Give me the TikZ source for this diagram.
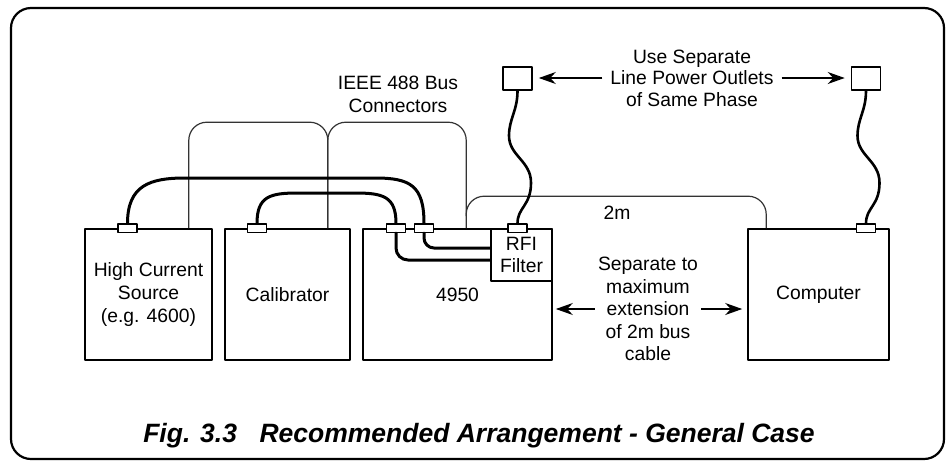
\documentclass[tikz,border=0pt]{standalone}
\usepackage{fontspec}
\setmainfont{Liberation Sans}
\usetikzlibrary{arrows.meta}
\newcommand{\lbfont}{\fontsize{19.3}{22.6}\selectfont}
\tikzset{
  unit/.style={draw,line width=1.6pt,inner sep=0pt,align=center,font=\lbfont,minimum height=131pt},
  plug/.style={draw,fill=white,line width=1.2pt,minimum width=19pt,minimum height=8.5pt,inner sep=0pt},
  outlet/.style={draw,line width=1.6pt,minimum width=29pt,minimum height=23pt,inner sep=0pt},
  cab/.style={line width=3pt,line cap=round},
  bus/.style={draw=black!80,line width=1.2pt,rounded corners=18pt},
  lbl/.style={align=center,font=\lbfont},
}

\begin{document}
\begin{tikzpicture}[x=1pt,y=-1pt,>={Stealth[length=17pt,width=12pt]},line join=round]
\useasboundingbox (0,0) rectangle (947,464);
\draw[line width=2.2pt,rounded corners=20pt] (11,8) rectangle (944,459);
% instruments
\node[unit,minimum width=127pt] (hcs) at (148.5,294.5) {High Current\\Source\\(e.g. 4600)};
\node[unit,minimum width=125pt] (cal) at (287.5,294.5) {Calibrator};
\node[unit,minimum width=189pt] (dmm) at (457.5,294.5) {4950};
\node[unit,minimum width=61pt,minimum height=52pt,fill=white] (rfi) at (521.5,255) {RFI\\Filter};
\node[unit,minimum width=141pt] (comp) at (818.5,294.5) {Computer};
\node[outlet] (ol1) at (517.5,78.5) {};
\node[outlet] (ol2) at (866,78.5) {};
% bus taps
\coordinate (tap) at ([xshift=-23pt]cal.north east);
\draw[bus] ([xshift=-24pt]hcs.north east) -- ++(0,-106) -| (tap);
\draw[bus] (tap) -- ++(0,-106) -| ([xshift=104pt]dmm.north west);
\draw[bus] ([xshift=104pt,yshift=12pt]dmm.north west) |- ([xshift=19pt,yshift=32pt]comp.north west) -- ([xshift=19pt]comp.north west);
\node[lbl] (len) at (617,213) {2m};
\node[lbl] (ieee) at (398,94.5) {IEEE 488 Bus\\Connectors};
% plugs
\node[plug] (hp) at ([xshift=-21pt]hcs.north) {};
\node[plug] (cp) at ([xshift=-30.5pt]cal.north) {};
\node[plug] (dp1) at ([xshift=-61.5pt]dmm.north) {};
\node[plug] (dp2) at ([xshift=-33.5pt]dmm.north) {};
\node[plug] (rp) at ([xshift=-4pt]rfi.north) {};
\node[plug] (pp) at ([xshift=47.5pt]comp.north) {};
% cables
\draw[cab] (hp.north) .. controls +(0,-38) and +(-35,0) .. (185,178) -- (375,178) .. controls +(35,0) and +(0,-38) .. (dp2.north);
\draw[cab] (cp.north) .. controls +(0,-27) and +(-28,0) .. (298,193) -- (355,193) .. controls +(28,0) and +(0,-27) .. (dp1.north);
\draw[cab,rounded corners=12pt] (dp1.south) |- ([yshift=-5pt]rfi.west);
\draw[cab,rounded corners=10pt] (dp2.south) |- ([yshift=7pt]rfi.west);
\draw[cab,line width=2.6pt] (ol1.south) .. controls +(0,20) and +(0,-17) .. ++(-8.5,45) .. controls +(0,20) and +(0,-22) .. ++(22,47) .. controls +(0,23) and +(0,-16) .. (rp.north);
\draw[cab,line width=2.6pt] (ol2.south) .. controls +(0,20) and +(0,-17) .. ++(-8.5,45) .. controls +(0,20) and +(0,-22) .. ++(22,47) .. controls +(0,23) and +(0,-16) .. (pp.north);
% notes
\node[lbl,font=\fontsize{19.3}{21.5}\selectfont,inner xsep=8pt] (use) at (692,78) {Use Separate\\Line Power Outlets\\of Same Phase};
\draw[->,line width=1.5pt,shorten >=6pt] (use.west) -- (use.west -| ol1.east);
\draw[->,line width=1.5pt,shorten >=6pt] (use.east) -- (use.east -| ol2.west);
\node[lbl,inner sep=3pt] (sep) at (648,309) {Separate to\\maximum\\extension\\of 2m bus\\cable};
\draw[->,line width=1.5pt,shorten >=3pt] (sep.west) -- (sep.west -| dmm.east);
\draw[->,line width=1.5pt,shorten >=5pt] (sep.east) -- (sep.east -| comp.west);
\node[font=\fontsize{26.5}{30}\selectfont\bfseries\itshape] (cap) at (479,436) {Fig. 3.3\hspace{0.85em}Recommended Arrangement - General Case};
\end{tikzpicture}
\end{document}
